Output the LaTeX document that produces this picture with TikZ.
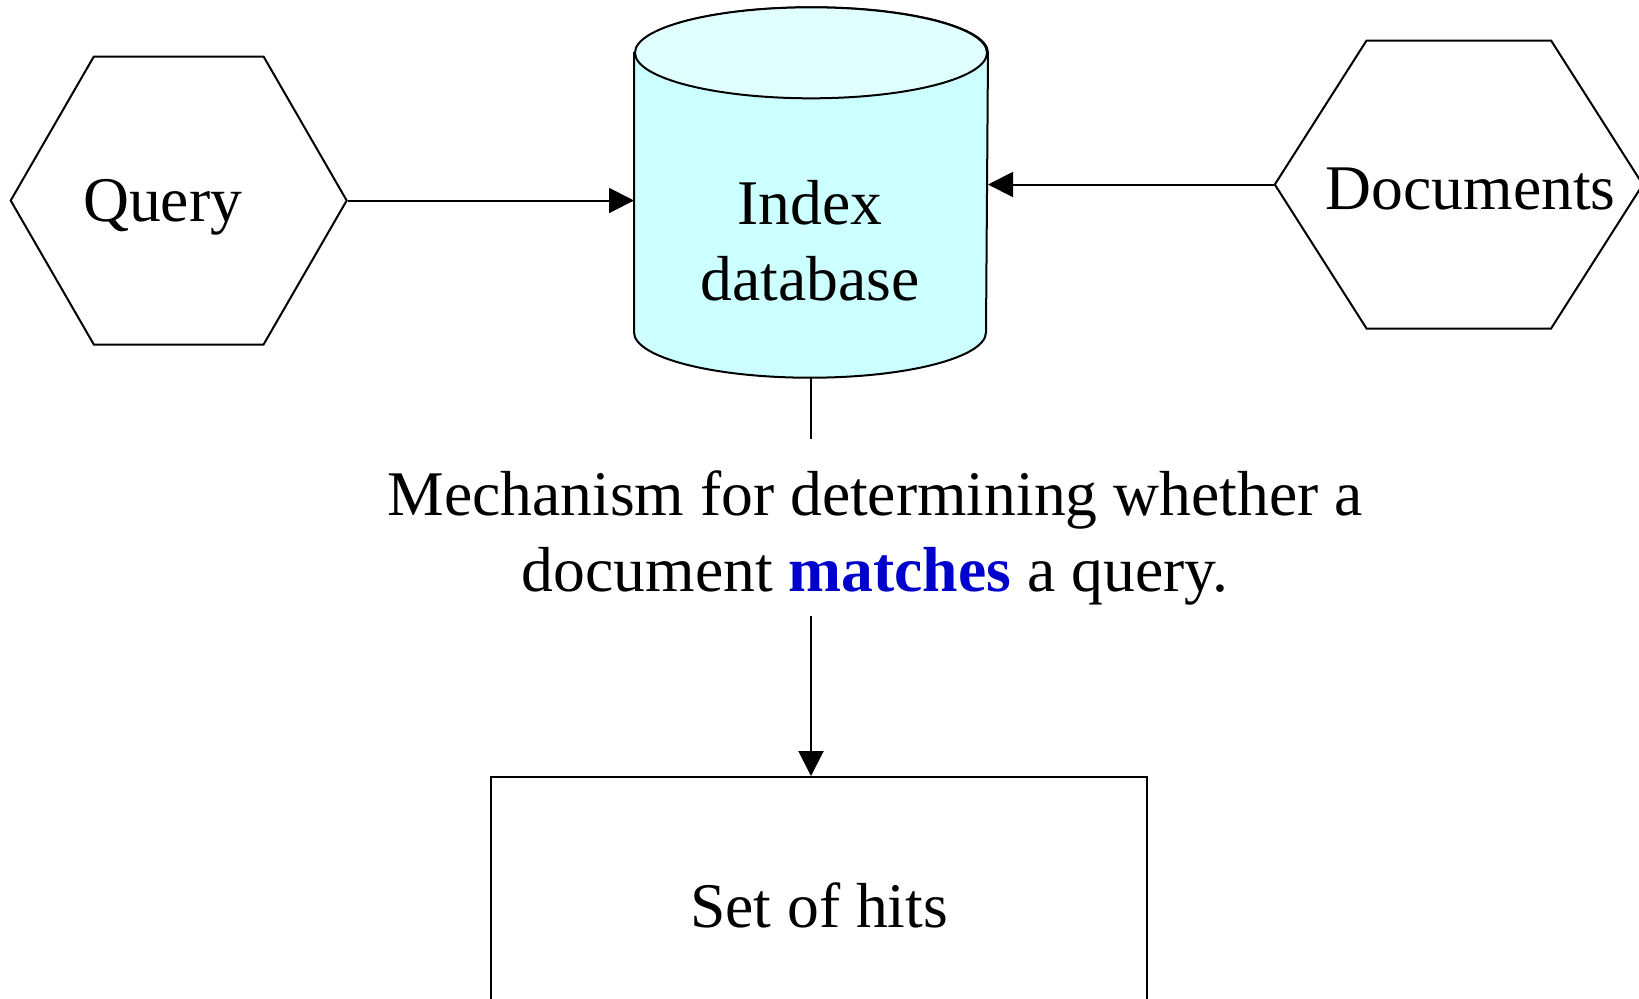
\documentclass[tikz,border=0pt]{standalone}
\usepackage{fontspec}
\setmainfont{Liberation Serif}
\usetikzlibrary{arrows.meta,positioning,calc,shapes.symbols}
\definecolor{dbside}{HTML}{CCFFFF}
\definecolor{dbtop}{HTML}{E0FFFF}
\definecolor{matchblue}{HTML}{0000CC}

\begin{document}
\begin{tikzpicture}[font=\fontsize{18.1pt}{21.6pt}\selectfont, line width=0.02cm,
    hexbox/.style={signal, signal to=east and west, draw, inner sep=0pt, minimum height=2.88cm},
    capline/.style={text height=0.42cm, text depth=0pt},
    flow/.style={-{Triangle[length=0.25cm,width=0.25cm]}}]
    \useasboundingbox (0,0) rectangle (16.39,-9.98);
    \clip (0,0) rectangle (16.39,-9.98);
    % inputs
    \node[hexbox, signal pointer angle=120, minimum width=3.36cm,
        label={[capline,xshift=-0.16cm]center:Query}] (query) at (1.787,-2.005) {};
    \node[hexbox, signal pointer angle=115, minimum width=3.68cm,
        label={[capline,xshift=0.12cm,yshift=-0.04cm]center:Documents}] (docs) at (14.588,-1.845) {};
    % index database
    \node[minimum width=3.52cm, minimum height=3.684cm, inner sep=0pt] (db) at (8.11,-1.925) {};
    \filldraw[fill=dbside] ($(db.north west)+(0,-0.455)$) -- ($(db.south west)+(0,0.455)$)
        arc[start angle=180, end angle=360, x radius=1.76cm, y radius=0.455cm]
        -- ($(db.north east)+(0,-0.455)$)
        arc[start angle=0, end angle=180, x radius=1.76cm, y radius=0.455cm] -- cycle;
    \filldraw[fill=dbtop] ($(db.north)+(0,-0.455)$) ellipse[x radius=1.76cm, y radius=0.455cm];
    \node[align=center] (dbtext) at (8.10,-2.41) {Index\\database};
    % matching
    \node[align=center, inner sep=0pt] (mech) at (8.75,-5.375)
        {Mechanism for determining whether a\\document \textcolor{matchblue}{\textbf{matches}} a query.};
    \node[draw, minimum width=6.555cm, minimum height=2.58cm, capline] (hits) at (8.19,-9.06) {Set of hits};
    \draw[flow] (query.east) -- (query.east -| db.west);
    \draw[flow] (docs.west) -- (docs.west -| db.east);
    \draw[shorten >=0.3cm] (db.south) -- (db.south |- mech.north);
    \draw[flow, shorten <=0.1cm] (db.south |- mech.south) -- (db.south |- hits.north);
\end{tikzpicture}
\end{document}
